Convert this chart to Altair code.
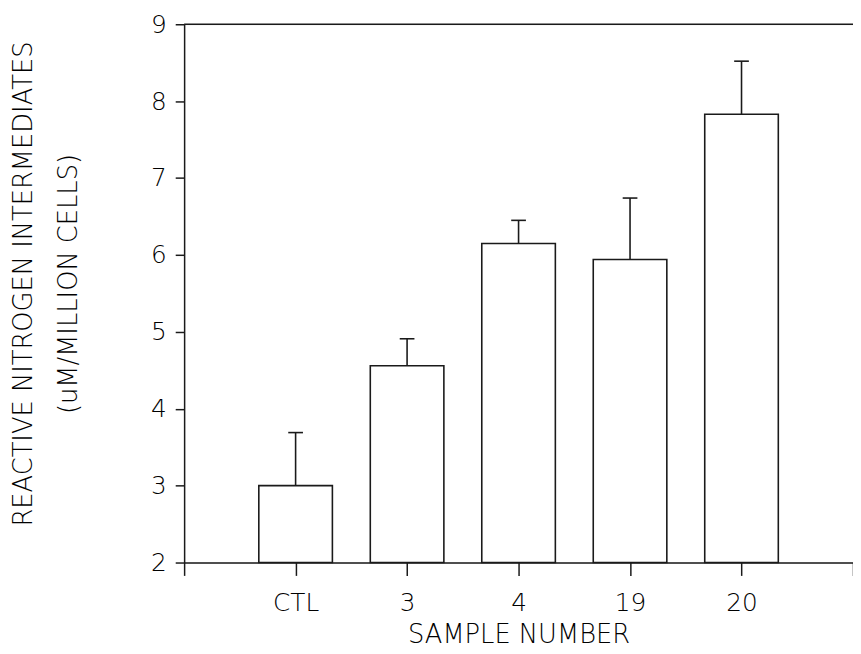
import altair as alt
import pandas as pd

categories = ["CTL", "3", "4", "19", "20"]
positions = [1, 2, 3, 4, 5]
means = [3.00, 4.56, 6.15, 5.94, 7.83]
upper = [3.69, 4.91, 6.45, 6.74, 8.52]

half_width = 0.33
cap_half = 0.066

df = pd.DataFrame({
    "cat": categories,
    "pos": positions,
    "mean": means,
    "upper": upper,
})
df["lo"] = df["pos"] - half_width
df["hi"] = df["pos"] + half_width
df["clo"] = df["pos"] - cap_half
df["chi"] = df["pos"] + cap_half
df["base"] = 2

FONT = "DejaVu Sans"
WEIGHT = 200
INK = "#1a1a1a"
TXT = "#000000"
LFS = 25
TFS = 26

label_list = [""] + categories + [""]
label_expr = "[" + ",".join("'%s'" % s for s in label_list) + "][round(datum.value)]"

xscale = alt.Scale(domain=[0, 6], nice=False, zero=False)
yscale = alt.Scale(domain=[2, 9], nice=False, zero=False)

xaxis = alt.Axis(
    values=[0, 1, 2, 3, 4, 5, 6],
    labelExpr=label_expr,
    title="SAMPLE NUMBER",
    titleFont=FONT, titleFontSize=TFS, titleFontWeight=WEIGHT, titleColor=TXT,
    titlePadding=7,
    labelFont=FONT, labelFontSize=LFS, labelFontWeight=WEIGHT, labelColor=TXT, labelPadding=15,
    tickSize=13, tickColor=INK, tickWidth=1.5,
    domainColor=INK, domainWidth=1.5, grid=False,
)
yaxis = alt.Axis(
    values=[2, 3, 4, 5, 6, 7, 8, 9],
    format="d",
    title=["REACTIVE NITROGEN INTERMEDIATES", "(uM/MILLION CELLS)"],
    titleFont=FONT, titleFontSize=TFS, titleFontWeight=WEIGHT, titleColor=TXT,
    titleAngle=-90, titleX=-175, titleY=262, titleAlign="center", titleBaseline="top",
    titleLineHeight=45,
    labelFont=FONT, labelFontSize=LFS, labelFontWeight=WEIGHT, labelColor=TXT, labelPadding=9,
    tickSize=9, tickColor=INK, tickWidth=1.5,
    domainColor=INK, domainWidth=1.5, grid=False,
)

base = alt.Chart(df)

bars = base.mark_bar(fill="white", stroke=INK, strokeWidth=1.6).encode(
    x=alt.X("lo:Q", scale=xscale, axis=xaxis),
    x2="hi:Q",
    y=alt.Y("mean:Q", scale=yscale, axis=yaxis),
    y2="base:Q",
)

err = base.mark_rule(color=INK, strokeWidth=1.6).encode(
    x="pos:Q", y="mean:Q", y2="upper:Q"
)
caps = base.mark_rule(color=INK, strokeWidth=1.6).encode(
    x="clo:Q", x2="chi:Q", y="upper:Q"
)

top = alt.Chart(pd.DataFrame({"a": [0]})).mark_rule(color=INK, strokeWidth=1.5).encode(
    x=alt.datum(0), x2=alt.datum(6), y=alt.datum(9)
)

chart = alt.layer(bars, err, caps, top).properties(
    width=676, height=544,
    autosize=alt.AutoSizeParams(type="none"),
    padding={"left": 178, "top": 13, "right": 0, "bottom": 89},
).configure_view(stroke=None).configure(background="white")

chart.save("out.html", embed_options={"renderer": "svg", "actions": False})
